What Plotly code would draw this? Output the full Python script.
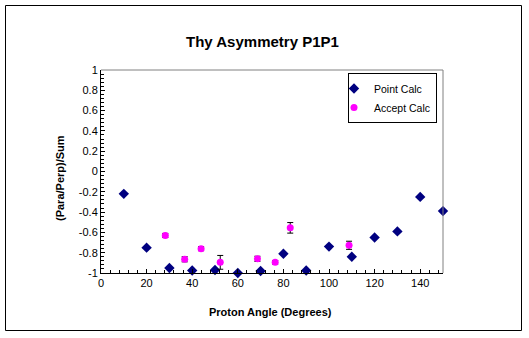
import plotly.graph_objects as go

# Point calculation: proton angle (deg) vs asymmetry
point_angle = [10, 20, 30, 40, 50, 60, 70, 80, 90, 100, 110, 120, 130, 140, 150]
point_asym = [-0.22, -0.75, -0.95, -0.975, -0.97, -1.0, -0.98, -0.81, -0.975,
              -0.74, -0.84, -0.65, -0.59, -0.25, -0.39]

# Acceptance-averaged calculation with uncertainties
accept_angle = [28.2, 36.7, 43.9, 52.3, 68.6, 76.4, 83.0, 108.8]
accept_asym = [-0.63, -0.865, -0.76, -0.895, -0.86, -0.895, -0.555, -0.727]
accept_err = [0.02, 0.025, 0.02, 0.068, 0.025, 0.018, 0.052, 0.04]

y_ticks = [1, 0.8, 0.6, 0.4, 0.2, 0, -0.2, -0.4, -0.6, -0.8, -1]
y_tick_text = ["1", "0.8", "0.6", "0.4", "0.2", "0", "-0.2", "-0.4", "-0.6", "-0.8", "-1"]
x_ticks = [0, 20, 40, 60, 80, 100, 120, 140]

W, H = 529, 338
L, R, T, B = 101, 443, 70, 273  # plot area in pixels


def fx(px):
    return (px - L) / (R - L)


def fy(py):
    return (B - py) / (B - T)


FONT = "Liberation Sans, Arial, sans-serif"

fig = go.Figure()
fig.add_trace(go.Scatter(
    x=point_angle, y=point_asym, mode="markers", name="Point Calc",
    marker=dict(symbol="diamond", size=8, color="#000080"),
    cliponaxis=False,
))
fig.add_trace(go.Scatter(
    x=accept_angle, y=accept_asym, mode="markers", name="Accept Calc",
    marker=dict(symbol="circle", size=7, color="#FF00FF"),
    error_y=dict(type="data", array=accept_err, color="black", thickness=1, width=3),
    cliponaxis=False,
))

axis_common = dict(
    showgrid=False, zeroline=False, showline=True, linecolor="black", linewidth=1,
    ticks="inside", ticklen=4, tickcolor="black",
    tickfont=dict(family=FONT, size=11, color="black"),
)

fig.update_xaxes(
    range=[0, 150], tickvals=x_ticks, **axis_common,
    minor=dict(dtick=4, ticks="inside", ticklen=3, tickcolor="black"),
)
fig.update_yaxes(
    range=[-1, 1], tickvals=y_ticks, ticktext=y_tick_text, **axis_common,
    minor=dict(dtick=0.04, ticks="inside", ticklen=3, tickcolor="black"),
)

shapes = [
    # gray top and right edges of the plot area
    dict(type="line", xref="paper", yref="paper", x0=0, x1=1, y0=1, y1=1,
         line=dict(color="#808080", width=1)),
    dict(type="line", xref="paper", yref="paper", x0=1, x1=1, y0=0, y1=1,
         line=dict(color="#808080", width=1)),
    # outer chart border
    dict(type="rect", xref="paper", yref="paper",
         x0=fx(5.5), x1=fx(521.5), y0=fy(330.5), y1=fy(5.5),
         line=dict(color="black", width=1)),
]

annotations = [
    dict(text="<b>Thy Asymmetry P1P1</b>", x=fx(262), y=fy(42), xref="paper", yref="paper",
         showarrow=False, xanchor="center", yanchor="middle",
         font=dict(family=FONT, size=15, color="black")),
    dict(text="<b>Proton Angle (Degrees)</b>", x=fx(270), y=fy(312), xref="paper", yref="paper",
         showarrow=False, xanchor="center", yanchor="middle",
         font=dict(family=FONT, size=11, color="black")),
    dict(text="<b>(Para/Perp)/Sum</b>", x=fx(60), y=fy(178), xref="paper", yref="paper",
         showarrow=False, xanchor="center", yanchor="middle", textangle=-90,
         font=dict(family=FONT, size=11, color="black")),
]

fig.update_layout(
    width=W, height=H,
    margin=dict(l=L, r=W - R, t=T, b=H - B),
    paper_bgcolor="white", plot_bgcolor="white",
    showlegend=True,
    legend=dict(
        x=fx(437), y=fy(73), xanchor="right", yanchor="top",
        bordercolor="black", borderwidth=1, bgcolor="white",
        font=dict(family=FONT, size=10.5, color="black"),
        itemwidth=30, indentation=-15, tracegroupgap=0,
    ),
    shapes=shapes,
    annotations=annotations,
)

fig.write_html("out.html")
